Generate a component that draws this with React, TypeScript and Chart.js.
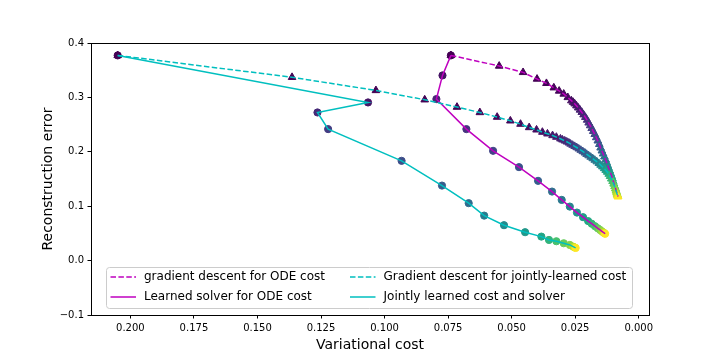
import React, { useEffect, useRef } from "react";
import { Chart, registerables } from "chart.js";

Chart.register(...registerables);

// ---------------- data ----------------
const seriesLabels = [
  "gradient descent for ODE cost",
  "Learned solver for ODE cost",
  "Gradient descent for jointly-learned cost",
  "Jointly learned cost and solver",
];

// gradient descent for ODE cost (triangles, dashed magenta)
const gdOdeX = [
  0.0739, 0.0549, 0.0455, 0.04, 0.0363, 0.0334, 0.0313, 0.0295, 0.0279,
  0.0265, 0.0258, 0.0252, 0.0245, 0.0238, 0.0231, 0.0224, 0.0217, 0.021, 0.0203,
  0.0197, 0.0191, 0.0185, 0.0179, 0.0173, 0.0167, 0.0161, 0.0155, 0.015, 0.0145,
  0.014, 0.0135, 0.013, 0.0126, 0.0122, 0.0118, 0.0114, 0.011, 0.0106, 0.0103,
  0.01, 0.0097, 0.0094, 0.0091, 0.0089, 0.0087, 0.0085, 0.0084, 0.0083, 0.0082, 0.0081,
];
const gdOdeY = [
  0.3772, 0.3577, 0.346, 0.3338, 0.3259, 0.3178, 0.3118, 0.3063, 0.3,
  0.294, 0.2912, 0.2883, 0.2847, 0.2809, 0.2769, 0.2727, 0.2682, 0.2635, 0.2584,
  0.2532, 0.2482, 0.2431, 0.2377, 0.2322, 0.2262, 0.2202, 0.2138, 0.2073, 0.2018,
  0.1963, 0.1908, 0.1852, 0.1802, 0.1751, 0.17, 0.165, 0.16, 0.1549, 0.1503,
  0.1457, 0.1411, 0.1365, 0.1328, 0.1291, 0.1263, 0.1236, 0.1217, 0.1199, 0.1188, 0.1177,
];

// Learned solver for ODE cost (circles, solid magenta)
const lsOdeX = [0.0739, 0.0772, 0.0796, 0.0678, 0.0573, 0.0471, 0.0396, 0.0341, 0.0303, 0.0271, 0.0243, 0.0219, 0.0199, 0.0185, 0.0172, 0.0161, 0.0152, 0.0145, 0.0139, 0.0135, 0.0132];
const lsOdeY = [0.3772, 0.3404, 0.2969, 0.2417, 0.2018, 0.1718, 0.1466, 0.1269, 0.1116, 0.0993, 0.0883, 0.0798, 0.0726, 0.0678, 0.0632, 0.0594, 0.0563, 0.0538, 0.0517, 0.0504, 0.0493];

// Gradient descent for jointly-learned cost (triangles, dashed cyan)
const gdJointX = [
  0.205, 0.1364, 0.1034, 0.0842, 0.0715, 0.0625, 0.0557, 0.0505, 0.0465, 0.0431,
  0.0402, 0.0379, 0.0359, 0.0339, 0.0324, 0.0308,
  0.03, 0.0291, 0.0283, 0.0275, 0.0268, 0.026, 0.0252, 0.0244, 0.0236, 0.0228,
  0.022, 0.0212, 0.0205, 0.0197, 0.0189, 0.0181, 0.0173, 0.0165, 0.0157, 0.015,
  0.0143, 0.0136, 0.013, 0.0124, 0.0118, 0.0113, 0.0108, 0.0103, 0.0099, 0.0095,
  0.0092, 0.0089, 0.0087, 0.0085, 0.0083, 0.0082,
];
const gdJointY = [
  0.3772, 0.337, 0.3128, 0.2957, 0.2822, 0.2723, 0.2638, 0.257, 0.2509, 0.2447,
  0.2404, 0.2362, 0.2331, 0.23, 0.227, 0.2239,
  0.2221, 0.2202, 0.2184, 0.2165, 0.2144, 0.2123, 0.2101, 0.2079, 0.2055, 0.2031,
  0.2006, 0.1981, 0.1956, 0.193, 0.1903, 0.1876, 0.1848, 0.1819, 0.1789, 0.1757,
  0.1726, 0.1694, 0.1662, 0.1628, 0.159, 0.1549, 0.1503, 0.1457, 0.1411, 0.1365,
  0.1323, 0.1282, 0.125, 0.1218, 0.1196, 0.1175,
];

// Jointly learned cost and solver (circles, solid cyan)
const jointX = [0.205, 0.1065, 0.1264, 0.1222, 0.0933, 0.0774, 0.0669, 0.0608, 0.053, 0.0447, 0.0383, 0.0353, 0.0324, 0.0295, 0.0271, 0.0258, 0.0252, 0.0248];
const jointY = [0.3772, 0.2907, 0.2723, 0.2417, 0.1834, 0.1379, 0.1056, 0.0827, 0.0651, 0.0522, 0.0441, 0.038, 0.0356, 0.0319, 0.0288, 0.0257, 0.0242, 0.0233];

const xTicks = [0, 0.025, 0.05, 0.075, 0.1, 0.125, 0.15, 0.175, 0.2];
const yTicks = [-0.1, 0, 0.1, 0.2, 0.3, 0.4];

// ---------------- styling helpers ----------------
const FONT = "DejaVu Sans";
const MAGENTA = "#bf00bf";
const CYAN = "#00bfbf";
const DASH = [5.5, 2.4];

const VIRIDIS = ["#440154", "#482475", "#414487", "#355f8d", "#2a788e", "#21918c", "#22a884", "#44bf70", "#7ad151", "#bddf26", "#fde725"];
function hexToRgb(h: string) {
  const n = parseInt(h.slice(1), 16);
  return [(n >> 16) & 255, (n >> 8) & 255, n & 255];
}
function viridis(t: number) {
  const c = Math.max(0, Math.min(1, t)) * 10;
  const i = Math.min(9, Math.floor(c));
  const f = c - i;
  const a = hexToRgb(VIRIDIS[i]);
  const b = hexToRgb(VIRIDIS[i + 1]);
  const r = a.map((v, k) => Math.round(v + (b[k] - v) * f));
  return `rgb(${r[0]},${r[1]},${r[2]})`;
}

function pts(xs: number[], ys: number[]) {
  return xs.map((x, i) => ({ x, y: ys[i] }));
}

function lineDS(xs: number[], ys: number[], color: string, dash: number[], label: string) {
  return {
    label,
    data: pts(xs, ys),
    showLine: true,
    borderColor: color,
    borderWidth: 1.5,
    borderDash: dash,
    pointRadius: 0,
    pointHoverRadius: 0,
    fill: false,
    tension: 0,
  };
}

function scatterDS(xs: number[], ys: number[], style: string, gamma: number) {
  const n = xs.length;
  const colors = xs.map((_, i) => viridis(Math.pow(i / (n - 1), gamma)));
  return {
    label: "",
    data: pts(xs, ys),
    showLine: false,
    pointStyle: style,
    pointRadius: style === "triangle" ? 4.4 : 3.6,
    pointBorderWidth: 1,
    pointBackgroundColor: colors,
    pointBorderColor: colors,
  };
}

const legendItems = [
  { label: seriesLabels[0], color: MAGENTA, dash: DASH, col: 0, row: 0 },
  { label: seriesLabels[1], color: MAGENTA, dash: [], col: 0, row: 1 },
  { label: seriesLabels[2], color: CYAN, dash: DASH, col: 1, row: 0 },
  { label: seriesLabels[3], color: CYAN, dash: [], col: 1, row: 1 },
];

const framePlugin = {
  id: "frameAndLegend",
  afterDraw(chart: any) {
    const { ctx, chartArea: a } = chart;
    ctx.save();
    ctx.strokeStyle = "#000";
    ctx.lineWidth = 1;
    ctx.setLineDash([]);
    ctx.strokeRect(a.left + 0.5, a.top + 0.5, a.right - a.left, a.bottom - a.top);

    const bx = 106.5, by = 267.5, bw = 526, bh = 41;
    ctx.beginPath();
    if ((ctx as any).roundRect) (ctx as any).roundRect(bx, by, bw, bh, 3);
    else ctx.rect(bx, by, bw, bh);
    ctx.fillStyle = "rgba(255,255,255,0.8)";
    ctx.fill();
    ctx.strokeStyle = "#cccccc";
    ctx.lineWidth = 1;
    ctx.stroke();

    const colX = [110.5, 350];
    const rowY = [277, 297];
    ctx.font = `12px "${FONT}"`;
    ctx.textBaseline = "middle";
    ctx.textAlign = "left";
    for (const it of legendItems) {
      const x0 = colX[it.col];
      const y = rowY[it.row];
      ctx.beginPath();
      ctx.setLineDash(it.dash);
      ctx.strokeStyle = it.color;
      ctx.lineWidth = 1.5;
      ctx.moveTo(x0, y);
      ctx.lineTo(x0 + 25.5, y);
      ctx.stroke();
      ctx.setLineDash([]);
      ctx.fillStyle = "#000";
      ctx.fillText(it.label, x0 + 33.5, y);
    }
    ctx.restore();
  },
};

export default function App() {
  const ref = useRef<HTMLCanvasElement | null>(null);

  useEffect(() => {
    if (!ref.current) return;
    const tickFont = { family: FONT, size: 10 };
    const titleFont = { family: FONT, size: 14 };
    const chart = new Chart(ref.current, {
      type: "scatter",
      data: {
        datasets: [
          lineDS(jointX, jointY, CYAN, [], seriesLabels[3]),
          lineDS(gdJointX, gdJointY, CYAN, DASH, seriesLabels[2]),
          lineDS(lsOdeX, lsOdeY, MAGENTA, [], seriesLabels[1]),
          lineDS(gdOdeX, gdOdeY, MAGENTA, DASH, seriesLabels[0]),
          scatterDS(jointX, jointY, "circle", 1),
          scatterDS(gdJointX, gdJointY, "triangle", 2),
          scatterDS(lsOdeX, lsOdeY, "circle", 1),
          scatterDS(gdOdeX, gdOdeY, "triangle", 2),
        ] as any,
      },
      options: {
        animation: false,
        responsive: false,
        devicePixelRatio: 1,
        events: [],
        layout: { padding: { left: 0, right: 71, top: 43, bottom: 0 } },
        plugins: { legend: { display: false }, tooltip: { enabled: false } },
        scales: {
          x: {
            type: "linear",
            reverse: true,
            min: -0.00405,
            max: 0.2155,
            afterBuildTicks: (s: any) => {
              s.ticks = xTicks.map((v) => ({ value: v }));
            },
            afterFit: (s: any) => {
              s.height = 45;
            },
            ticks: {
              callback: (v: any) => Number(v).toFixed(3),
              font: tickFont,
              color: "#000",
              padding: 3.5,
              maxRotation: 0,
              autoSkip: false,
            },
            grid: {
              display: true,
              drawOnChartArea: false,
              drawTicks: true,
              tickLength: 3.5,
              tickColor: "#000",
              tickWidth: 1,
            },
            border: { display: false },
            title: {
              display: true,
              text: "Variational cost",
              font: titleFont,
              color: "#000",
              padding: { top: 0, bottom: 6.3 },
            },
          },
          y: {
            type: "linear",
            min: -0.1,
            max: 0.4,
            afterBuildTicks: (s: any) => {
              s.ticks = yTicks.map((v) => ({ value: v }));
            },
            afterFit: (s: any) => {
              s.width = 91;
            },
            ticks: {
              callback: (v: any) => {
                const n = Number(v);
                if (Math.abs(n) < 1e-9) return "0.0";
                return n < 0 ? "\u2212" + Math.abs(n).toFixed(1) : n.toFixed(1);
              },
              font: tickFont,
              color: "#000",
              padding: 3.5,
              autoSkip: false,
            },
            grid: {
              display: true,
              drawOnChartArea: false,
              drawTicks: true,
              tickLength: 3.5,
              tickColor: "#000",
              tickWidth: 1,
            },
            border: { display: false },
            title: {
              display: true,
              text: "Reconstruction error",
              font: titleFont,
              color: "#000",
              padding: { top: 40, bottom: 0 },
            },
          },
        },
      },
      plugins: [framePlugin],
    } as any);
    return () => chart.destroy();
  }, []);

  return (
    <div style={{ position: "absolute", left: 0, top: 0, width: 720, height: 360, background: "#fff" }}>
      <canvas ref={ref} width={720} height={360} style={{ display: "block", width: 720, height: 360 }} />
    </div>
  );
}
